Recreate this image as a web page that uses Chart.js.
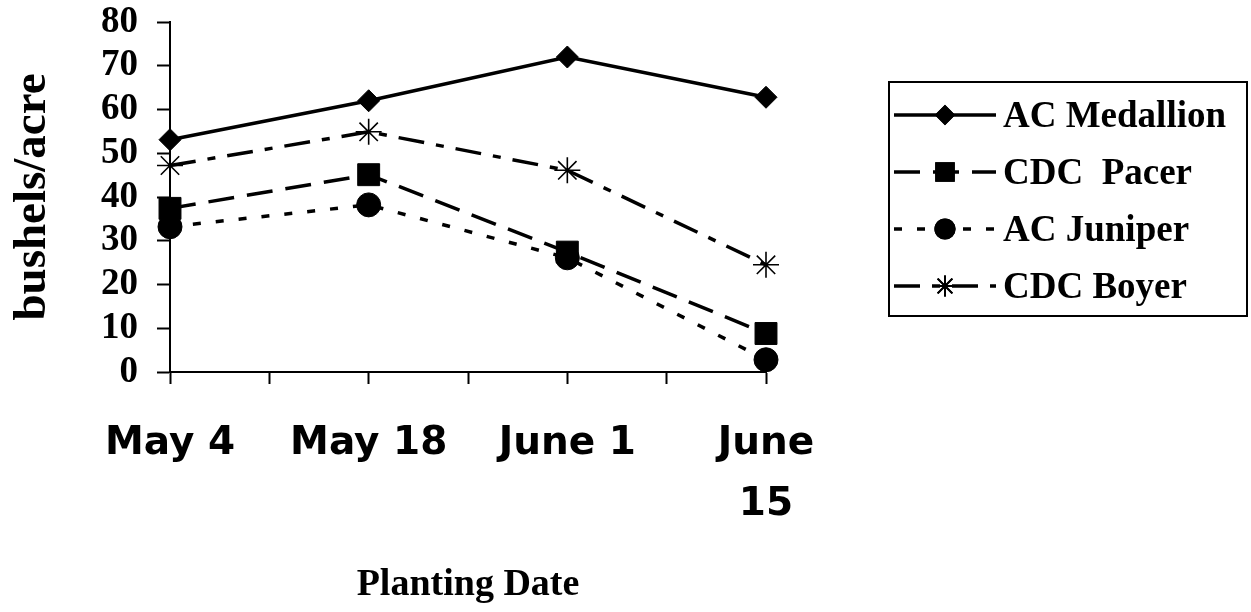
<!DOCTYPE html>
<html>
<head>
<meta charset="utf-8">
<script src="https://cdn.jsdelivr.net/npm/chart.js@4.4.0/dist/chart.umd.min.js"></script>
<style>
  html, body { margin: 0; padding: 0; background: #fff; }
  .chart-wrap { width: 1251px; height: 612px; }
</style>
</head>
<body>
<div class="chart-wrap"><canvas id="chart"></canvas></div>
<script>
// planting dates (x) and yields in bushels/acre per variety
const dates = ["May 4", "May 18", "June 1", ["June", "15"]];
const seriesNames = ["AC Medallion", "CDC  Pacer", "AC Juniper", "CDC Boyer"];
const medallion = [53.1, 62.0, 72.0, 62.8];
const pacer = [37.4, 45.1, 27.4, 8.8];
const juniper = [33.2, 38.2, 26.1, 2.8];
const boyer = [47.2, 54.9, 46.1, 24.5];
const yTickValues = [0, 10, 20, 30, 40, 50, 60, 70, 80];

(() => {
  const ctx = document.getElementById("chart");
  const serif = "'Liberation Serif', 'Times New Roman', serif";
  const toPoints = (arr) => arr.map((v, i) => ({ x: i, y: v }));

  const styles = [
    { dash: [], point: "rectRot", radius: 11, pbw: 1 },
    { dash: [26, 13], point: "rect", radius: 15.5, pbw: 1 },
    { dash: [8, 15], point: "circle", radius: 12, pbw: 1 },
    { dash: [26, 12, 8, 12], point: "star", radius: 13, pbw: 1.6 },
  ];
  const values = [medallion, pacer, juniper, boyer];

  const datasets = values.map((vals, i) => ({
    label: seriesNames[i],
    data: toPoints(vals),
    borderColor: "#000",
    backgroundColor: "#000",
    borderWidth: 3.5,
    borderDash: styles[i].dash,
    pointStyle: styles[i].point,
    pointRadius: styles[i].radius,
    pointBorderWidth: styles[i].pbw,
    pointBackgroundColor: "#000",
    pointBorderColor: "#000",
    tension: 0,
    clip: false,
  }));

  // boxed legend on the right, drawn by hand like the original
  const boxLegend = {
    id: "boxLegend",
    afterDraw(chart) {
      const c = chart.ctx;
      const left = 889, top = 82, right = 1247, bottom = 316;
      c.save();
      c.strokeStyle = "#000";
      c.lineWidth = 2;
      c.strokeRect(left, top, right - left, bottom - top);
      c.font = `bold 37px ${serif}`;
      c.textBaseline = "middle";
      c.fillStyle = "#000";
      chart.data.datasets.forEach((ds, i) => {
        const y = 115 + i * 57;
        c.save();
        c.lineWidth = 3.5;
        c.setLineDash(ds.borderDash);
        c.beginPath();
        c.moveTo(894, y);
        c.lineTo(996, y);
        c.stroke();
        c.restore();
        Chart.helpers.drawPoint(c, {
          pointStyle: ds.pointStyle,
          radius: ds.pointRadius * 0.8,
          borderWidth: ds.pointBorderWidth,
          rotation: 0,
        }, 945, y);
        c.fillStyle = "#000";
        c.fill();
        c.stroke();
        c.fillText(ds.label, 1003, y + 2);
      });
      c.restore();
    },
  };

  const config = {
    type: "line",
    data: { datasets },
    plugins: [boxLegend],
    options: {
      responsive: true,
      maintainAspectRatio: false,
      animation: false,
      layout: { padding: { top: 22, right: 485, left: 0, bottom: 0 } },
      plugins: { legend: { display: false }, tooltip: { enabled: false } },
      scales: {
        x: {
          type: "linear",
          min: 0,
          max: dates.length - 1,
          afterFit: (scale) => { scale.height = 240; },
          afterBuildTicks: (scale) => {
            const t = [];
            for (let v = 0; v <= dates.length - 1; v += 0.5) t.push({ value: v });
            scale.ticks = t;
          },
          ticks: {
            autoSkip: false,
            maxRotation: 0,
            padding: 30,
            color: "#000",
            font: { family: "'DejaVu Sans', sans-serif", weight: "bold", size: 39, lineHeight: 1.55 },
            callback: (v) => (Number.isInteger(v) ? dates[v] : ""),
          },
          grid: { drawOnChartArea: false, drawTicks: true, tickLength: 12, tickWidth: 2, tickColor: "#000" },
          border: { display: true, color: "#000", width: 2 },
          title: {
            display: true,
            text: "Planting Date",
            color: "#000",
            font: { family: serif, weight: "bold", size: 38 },
            padding: { top: 0, bottom: 4 },
          },
        },
        y: {
          min: yTickValues[0],
          max: yTickValues[yTickValues.length - 1],
          afterFit: (scale) => {
            scale.width = 170;
            scale.paddingTop = 0;
            scale.paddingBottom = 0;
          },
          afterBuildTicks: (scale) => { scale.ticks = yTickValues.map((v) => ({ value: v })); },
          ticks: {
            autoSkip: false,
            padding: 19,
            color: "#000",
            font: { family: serif, weight: "bold", size: 37 },
          },
          grid: { drawOnChartArea: false, drawTicks: true, tickLength: 13, tickWidth: 2, tickColor: "#000" },
          border: { display: true, color: "#000", width: 2 },
          title: {
            display: true,
            text: "bushels/acre",
            color: "#000",
            font: { family: serif, weight: "bold", size: 47 },
            padding: { top: 5, bottom: 0 },
          },
        },
      },
    },
  };
  new Chart(ctx, config);
})();
</script>
</body>
</html>
